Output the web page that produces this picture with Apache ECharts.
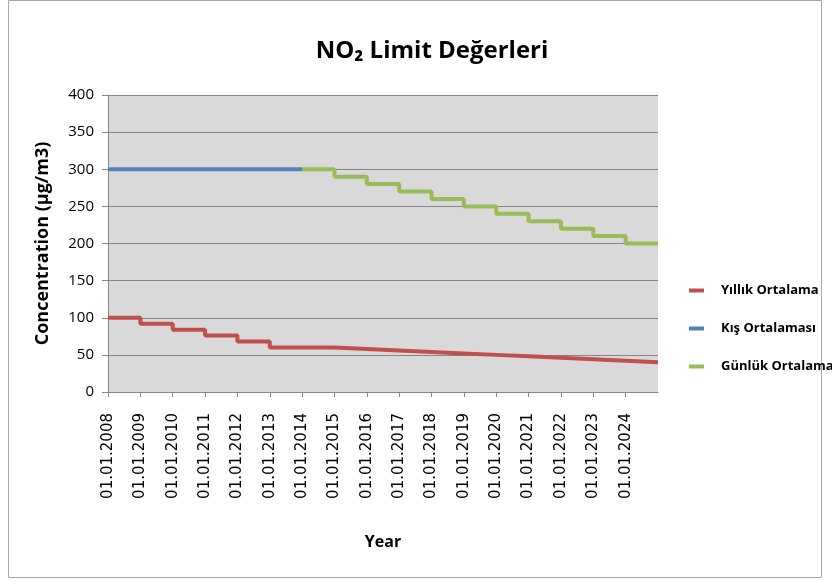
<!DOCTYPE html>
<html><head><meta charset="utf-8">
<script src="https://cdn.jsdelivr.net/npm/echarts@6/dist/echarts.min.js"></script>
<style>html,body{margin:0;padding:0;background:#fff}#c{width:832px;height:581px}</style>
</head><body><div id="c"></div>
<script>
const yearLabels = ["01.01.2008","01.01.2009","01.01.2010","01.01.2011","01.01.2012","01.01.2013","01.01.2014","01.01.2015","01.01.2016","01.01.2017","01.01.2018","01.01.2019","01.01.2020","01.01.2021","01.01.2022","01.01.2023","01.01.2024"];
const yillik = [100,92,84,76,68,60,60,58,56,54,52,50,48,46,44,42,40];
const kis = [300,300,300,300,300,300,300,null,null,null,null,null,null,null,null,null,null];
const gunluk = [null,null,null,null,null,null,300,290,280,270,260,250,240,230,220,210,200];

// blue ends where green starts (2014); red and green extend to the axis end
const redData = yillik.map((v,i)=>[i,v]).concat([[yearLabels.length, yillik[yillik.length-1]]]);
const blueData = kis.map((v,i)=>v===null?null:[i,v]).filter(d=>d);
const greenData = gunluk.map((v,i)=>v===null?null:[i,v]).filter(d=>d).concat([[yearLabels.length, gunluk[gunluk.length-1]]]);

const chart = echarts.init(document.getElementById('c'), null, {renderer:'canvas'});
const lineW = 4;
chart.setOption({
  animation:false,
  backgroundColor:'#fff',
  title:{text:'NO₂ Limit Değerleri', left:427, top:34, textAlign:'center',
    textStyle:{fontFamily:'Open Sans', fontWeight:'bold', fontSize:24, color:'#000'}},
  graphic:[{type:'rect', shape:{x:8.5,y:0.5,width:813,height:577}, style:{fill:null, stroke:'#a6a6a6', lineWidth:1}, silent:true}],
  grid:{left:108, right:174, top:95, bottom:189, show:true, backgroundColor:'#d9d9d9', borderWidth:0},
  legend:{orient:'vertical', left:684, top:279, itemGap:25, itemWidth:15, itemHeight:4, icon:'rect',
    textStyle:{fontFamily:'Open Sans', fontWeight:'bold', fontSize:13, color:'#000', padding:[0,0,0,12]},
    data:['Yıllık Ortalama','Kış Ortalaması','Günlük Ortalama']},
  xAxis:{type:'value', min:0, max:yearLabels.length, interval:1,
    name:'Year', nameLocation:'middle', nameGap:142,
    nameTextStyle:{fontFamily:'Open Sans', fontWeight:'bold', fontSize:16, color:'#000'},
    axisLine:{show:true, lineStyle:{color:'#868686', width:1}},
    axisTick:{show:true, length:5, lineStyle:{color:'#868686'}},
    splitLine:{show:false},
    axisLabel:{rotate:90, margin:21, fontFamily:'DejaVu Sans', fontSize:15, color:'#000',
      formatter:(v)=> yearLabels[v] !== undefined ? yearLabels[v] : '', showMaxLabel:false}},
  yAxis:{type:'value', min:0, max:400, interval:50,
    name:'Concentration (µg/m3)', nameLocation:'middle', nameGap:56,
    nameTextStyle:{fontFamily:'Open Sans', fontWeight:'bold', fontSize:18, color:'#000'},
    axisLine:{show:true, lineStyle:{color:'#868686', width:1}},
    axisTick:{show:true, length:6, lineStyle:{color:'#868686'}},
    splitLine:{show:true, lineStyle:{color:'#868686', width:1}},
    axisLabel:{margin:14, fontFamily:'Open Sans', fontSize:15, color:'#000'}},
  series:[
    {name:'Yıllık Ortalama', type:'line', step:'end', data:redData, symbol:'none',
      lineStyle:{color:'#c0504d', width:lineW}, itemStyle:{color:'#c0504d'}},
    {name:'Kış Ortalaması', type:'line', step:'end', data:blueData, symbol:'none',
      lineStyle:{color:'#4f81bd', width:lineW}, itemStyle:{color:'#4f81bd'}},
    {name:'Günlük Ortalama', type:'line', step:'end', data:greenData, symbol:'none',
      lineStyle:{color:'#9bbb59', width:lineW}, itemStyle:{color:'#9bbb59'}}
  ]
});
</script></body></html>
